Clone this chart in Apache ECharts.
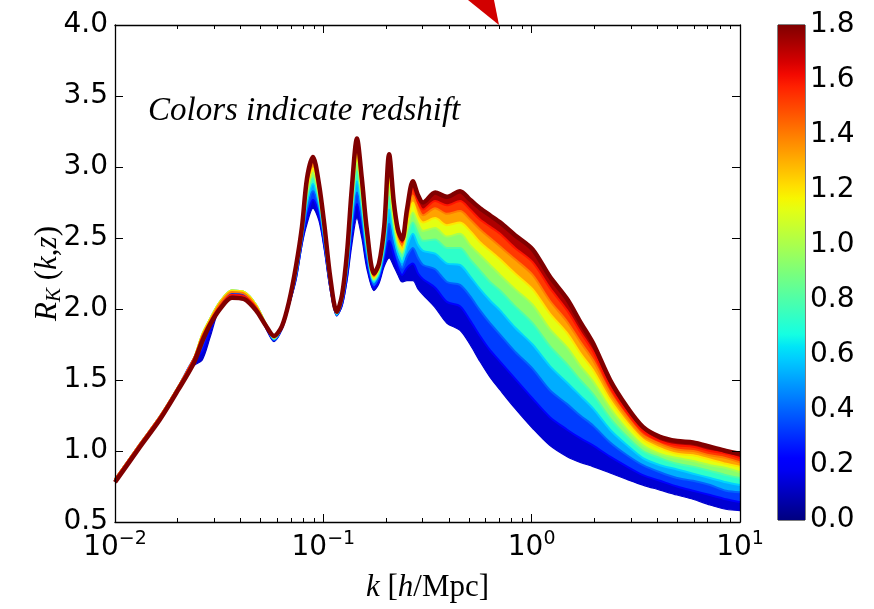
<!DOCTYPE html>
<html>
<head>
<meta charset="utf-8">
<title>R_K(k,z)</title>
<script src="https://cdn.jsdelivr.net/npm/echarts@6/dist/echarts.min.js"></script>
<style>
  html, body { margin: 0; padding: 0; background: #fff; }
  #main { width: 874px; height: 609px; }
</style>
</head>
<body>
<div id="main"></div>
<script>
// k grid [h/Mpc]
const K = [0.0100, 0.0132, 0.0164, 0.0201, 0.0239, 0.0262, 0.0286, 0.0319, 0.0364, 0.0416,
  0.0475, 0.0531, 0.0580, 0.0633, 0.0684, 0.0739, 0.0790, 0.0835, 0.0892, 0.0953,
  0.101, 0.108, 0.116, 0.123, 0.130, 0.137, 0.145, 0.153, 0.162, 0.175,
  0.185, 0.196, 0.207, 0.218, 0.228, 0.239, 0.252, 0.269, 0.285, 0.301,
  0.344, 0.392, 0.453, 0.506, 0.565, 0.631, 0.705, 0.832, 1.01, 1.22,
  1.48, 1.71, 1.97, 2.38, 2.87, 3.42, 4.13, 4.99, 5.95, 7.18, 8.57, 10]

// R_K(k,z), one array per redshift
const Z00 = [0.80, 1.05, 1.24, 1.45, 1.60, 1.64, 1.80, 2.01, 2.09, 2.08,
  2.00, 1.86, 1.77, 1.86, 2.02, 2.20, 2.45, 2.60, 2.71, 2.62,
  2.42, 2.13, 1.95, 2.02, 2.20, 2.45, 2.64, 2.50, 2.28, 2.13,
  2.18, 2.30, 2.36, 2.30, 2.24, 2.19, 2.20, 2.20, 2.14, 2.10,
  2.01, 1.90, 1.85, 1.75, 1.63, 1.52, 1.43, 1.30, 1.16, 1.04,
  0.96, 0.92, 0.89, 0.845, 0.80, 0.76, 0.725, 0.69, 0.66, 0.62, 0.59, 0.58]
const Z02 = [0.80, 1.05, 1.24, 1.45, 1.65, 1.70, 1.85, 2.02, 2.10, 2.09,
  2.01, 1.87, 1.78, 1.86, 2.03, 2.22, 2.47, 2.65, 2.77, 2.66,
  2.45, 2.15, 1.96, 2.03, 2.23, 2.52, 2.74, 2.57, 2.33, 2.15,
  2.20, 2.35, 2.48, 2.38, 2.29, 2.24, 2.29, 2.32, 2.25, 2.21,
  2.15, 2.05, 2.02, 1.92, 1.81, 1.71, 1.63, 1.51, 1.37, 1.24,
  1.15, 1.09, 1.04, 0.96, 0.89, 0.83, 0.79, 0.75, 0.72, 0.69, 0.66, 0.64]
const Z04 = [0.80, 1.05, 1.24, 1.45, 1.65, 1.77, 1.90, 2.04, 2.12, 2.11,
  2.02, 1.88, 1.78, 1.87, 2.03, 2.23, 2.49, 2.71, 2.83, 2.71,
  2.48, 2.16, 1.96, 2.05, 2.27, 2.58, 2.82, 2.64, 2.37, 2.17,
  2.23, 2.39, 2.60, 2.45, 2.35, 2.29, 2.37, 2.43, 2.36, 2.31,
  2.28, 2.19, 2.17, 2.09, 1.99, 1.90, 1.82, 1.70, 1.58, 1.43,
  1.33, 1.25, 1.18, 1.06, 0.97, 0.90, 0.85, 0.81, 0.79, 0.76, 0.72, 0.71]
const Z06 = [0.80, 1.05, 1.24, 1.45, 1.65, 1.81, 1.93, 2.05, 2.13, 2.12,
  2.03, 1.89, 1.79, 1.87, 2.03, 2.25, 2.51, 2.75, 2.88, 2.74,
  2.50, 2.17, 1.96, 2.06, 2.29, 2.64, 2.90, 2.70, 2.41, 2.19,
  2.25, 2.43, 2.70, 2.51, 2.39, 2.33, 2.44, 2.53, 2.45, 2.41,
  2.39, 2.32, 2.31, 2.23, 2.14, 2.06, 1.99, 1.87, 1.75, 1.60,
  1.48, 1.39, 1.30, 1.15, 1.04, 0.95, 0.90, 0.87, 0.84, 0.81, 0.78, 0.76]
const Z08 = [0.80, 1.05, 1.24, 1.45, 1.65, 1.82, 1.93, 2.05, 2.13, 2.12,
  2.03, 1.89, 1.79, 1.87, 2.04, 2.26, 2.53, 2.79, 2.92, 2.77,
  2.53, 2.18, 1.97, 2.07, 2.32, 2.69, 2.97, 2.75, 2.44, 2.20,
  2.26, 2.47, 2.79, 2.57, 2.43, 2.37, 2.50, 2.61, 2.53, 2.48,
  2.49, 2.43, 2.43, 2.35, 2.27, 2.19, 2.13, 2.02, 1.90, 1.74,
  1.61, 1.50, 1.40, 1.23, 1.10, 1.00, 0.95, 0.91, 0.89, 0.86, 0.83, 0.81]
const Z10 = [0.80, 1.05, 1.24, 1.45, 1.65, 1.82, 1.93, 2.05, 2.13, 2.12,
  2.03, 1.89, 1.80, 1.87, 2.04, 2.27, 2.54, 2.82, 2.96, 2.80,
  2.54, 2.19, 1.97, 2.08, 2.34, 2.73, 3.03, 2.79, 2.47, 2.21,
  2.28, 2.49, 2.86, 2.61, 2.46, 2.40, 2.55, 2.68, 2.60, 2.55,
  2.57, 2.51, 2.53, 2.45, 2.38, 2.31, 2.24, 2.14, 2.03, 1.86,
  1.73, 1.60, 1.49, 1.30, 1.15, 1.04, 0.98, 0.95, 0.93, 0.90, 0.88, 0.85]
const Z12 = [0.80, 1.05, 1.24, 1.45, 1.65, 1.82, 1.93, 2.05, 2.13, 2.12,
  2.03, 1.89, 1.80, 1.88, 2.04, 2.28, 2.55, 2.85, 2.99, 2.82,
  2.56, 2.20, 1.97, 2.08, 2.36, 2.76, 3.08, 2.83, 2.49, 2.22,
  2.29, 2.52, 2.93, 2.65, 2.49, 2.42, 2.59, 2.75, 2.65, 2.61,
  2.64, 2.59, 2.61, 2.55, 2.47, 2.41, 2.35, 2.25, 2.14, 1.97,
  1.83, 1.69, 1.57, 1.36, 1.20, 1.08, 1.02, 0.98, 0.97, 0.94, 0.91, 0.89]
const Z14 = [0.80, 1.05, 1.24, 1.45, 1.65, 1.81, 1.92, 2.04, 2.12, 2.11,
  2.02, 1.89, 1.80, 1.88, 2.05, 2.29, 2.56, 2.88, 3.02, 2.84,
  2.57, 2.21, 1.98, 2.09, 2.37, 2.79, 3.12, 2.86, 2.51, 2.23,
  2.30, 2.54, 2.99, 2.69, 2.52, 2.45, 2.63, 2.80, 2.71, 2.66,
  2.71, 2.67, 2.69, 2.63, 2.56, 2.50, 2.44, 2.35, 2.24, 2.06,
  1.91, 1.77, 1.64, 1.41, 1.24, 1.11, 1.05, 1.01, 1.00, 0.97, 0.95, 0.92]
const Z16 = [0.80, 1.05, 1.24, 1.45, 1.65, 1.80, 1.91, 2.02, 2.10, 2.09,
  2.01, 1.88, 1.81, 1.88, 2.05, 2.29, 2.57, 2.90, 3.05, 2.86,
  2.59, 2.21, 1.98, 2.09, 2.39, 2.82, 3.16, 2.89, 2.53, 2.24,
  2.31, 2.56, 3.04, 2.72, 2.54, 2.47, 2.67, 2.85, 2.75, 2.70,
  2.76, 2.73, 2.76, 2.70, 2.63, 2.58, 2.53, 2.43, 2.33, 2.15,
  1.99, 1.84, 1.70, 1.45, 1.27, 1.14, 1.07, 1.04, 1.03, 1.00, 0.98, 0.95]
const Z18 = [0.78, 1.03, 1.22, 1.43, 1.62, 1.77, 1.89, 2.00, 2.08, 2.07,
  1.99, 1.88, 1.81, 1.88, 2.05, 2.30, 2.58, 2.92, 3.07, 2.88,
  2.60, 2.22, 1.98, 2.10, 2.40, 2.85, 3.20, 2.92, 2.55, 2.25,
  2.32, 2.58, 3.09, 2.75, 2.56, 2.49, 2.70, 2.90, 2.80, 2.75,
  2.82, 2.79, 2.83, 2.77, 2.71, 2.66, 2.61, 2.52, 2.42, 2.23,
  2.07, 1.91, 1.76, 1.50, 1.31, 1.17, 1.10, 1.07, 1.06, 1.03, 1.00, 0.98]

const REDSHIFTS = [0, 0.2, 0.4, 0.6, 0.8, 1.0, 1.2, 1.4, 1.6, 1.8]
const CURVES = [Z00, Z02, Z04, Z06, Z08, Z10, Z12, Z14, Z16, Z18]
const Z_MAX = 1.8

const X_MAJOR = [0.01, 0.1, 1, 10]
const X_MINOR = [0.02, 0.03, 0.04, 0.05, 0.06, 0.07, 0.08, 0.09,
  0.2, 0.3, 0.4, 0.5, 0.6, 0.7, 0.8, 0.9, 2, 3, 4, 5, 6, 7, 8, 9]

// matplotlib jet colormap
function interp(t, xs, ys) {
  if (t <= xs[0]) return ys[0]
  for (let i = 1; i < xs.length; i++) {
    if (t <= xs[i]) return ys[i - 1] + (ys[i] - ys[i - 1]) * (t - xs[i - 1]) / (xs[i] - xs[i - 1])
  }
  return ys[ys.length - 1]
}
function jet(t) {
  const r = interp(t, [0, 0.35, 0.66, 0.89, 1], [0, 0, 1, 1, 0.5])
  const g = interp(t, [0, 0.125, 0.375, 0.64, 0.91, 1], [0, 0, 1, 1, 0, 0])
  const b = interp(t, [0, 0.11, 0.34, 0.65, 1], [0.5, 1, 1, 0, 0])
  return 'rgb(' + Math.round(r * 255) + ',' + Math.round(g * 255) + ',' + Math.round(b * 255) + ')'
}

const chart = echarts.init(document.getElementById('main'))

const tickFont = { fontFamily: 'DejaVu Sans', fontSize: 28, color: '#000' }
const serif = 'Liberation Serif'
const SMOOTH = 0.3

// filled areas under every curve, painted from the highest redshift (back)
// to z = 0 (front, white) so each strip between neighbours keeps its own colour
const areaSeries = []
for (let i = CURVES.length - 1; i >= 0; i--) {
  const zBand = i === 0 ? 0 : REDSHIFTS[i - 1] + 0.65 * (REDSHIFTS[i] - REDSHIFTS[i - 1])
  areaSeries.push({
    type: 'line',
    smooth: SMOOTH,
    symbol: 'none',
    silent: true,
    lineStyle: { width: 0 },
    areaStyle: {
      origin: 'start',
      opacity: 1,
      color: i === 0 ? '#ffffff' : jet(zBand / Z_MAX)
    },
    data: K.map((k, j) => [k, CURVES[i][j]]),
    z: 2
  })
}

// the curves themselves
const curveSeries = CURVES.map((c, i) => ({
  type: 'line',
  smooth: SMOOTH,
  symbol: 'none',
  silent: true,
  lineStyle: {
    color: jet(Math.max(REDSHIFTS[i], 0.12) / Z_MAX),
    width: i === CURVES.length - 1 ? 4.5 : (i === 0 ? 1.2 : 2),
    join: 'round'
  },
  data: K.map((k, j) => [k, c[j]]),
  z: 3
}))

// colour bar stops
const barStops = []
for (let i = 0; i <= 40; i++) barStops.push({ offset: i / 40, color: jet(i / 40) })

const logAxisBase = {
  type: 'log',
  logBase: 10,
  min: 0.01,
  max: 10,
  gridIndex: 0,
  z: 6,
  splitLine: { show: false },
  axisLine: { show: true, onZero: false, lineStyle: { color: '#000', width: 1.3 } }
}

const option = {
  animation: false,
  backgroundColor: '#fff',
  grid: [
    { left: 115, right: 134, top: 25, bottom: 87, show: false },
    { left: 778, width: 27, top: 25, bottom: 89, show: true, borderColor: '#000', borderWidth: 1 }
  ],
  xAxis: [
    Object.assign({}, logAxisBase, {
      position: 'bottom',
      axisTick: { inside: true, length: 8, customValues: X_MAJOR, lineStyle: { color: '#000' } },
      axisLabel: {
        customValues: X_MAJOR,
        margin: 8,
        formatter: v => '{b|10}{e|' + Math.round(Math.log10(v)).toString().replace('-', '\u2212') + '}',
        rich: {
          b: { fontFamily: 'DejaVu Sans', fontSize: 28, color: '#000', lineHeight: 36 },
          e: { fontFamily: 'DejaVu Sans', fontSize: 19, color: '#000', verticalAlign: 'top', lineHeight: 36 }
        }
      },
      name: '{i|k} [{i|h}/Mpc]',
      nameLocation: 'middle',
      nameGap: 50,
      nameTextStyle: {
        fontFamily: serif, fontSize: 31, color: '#000',
        rich: { i: { fontFamily: serif, fontStyle: 'italic', fontSize: 31, color: '#000' } }
      }
    }),
    Object.assign({}, logAxisBase, {
      position: 'bottom',
      axisLine: { show: false },
      axisTick: { inside: true, length: 4, customValues: X_MINOR, lineStyle: { color: '#000' } },
      axisLabel: { show: false }
    }),
    Object.assign({}, logAxisBase, {
      position: 'top',
      axisTick: { inside: true, length: 8, customValues: X_MAJOR, lineStyle: { color: '#000' } },
      axisLabel: { show: false }
    }),
    Object.assign({}, logAxisBase, {
      position: 'top',
      axisLine: { show: false },
      axisTick: { inside: true, length: 4, customValues: X_MINOR, lineStyle: { color: '#000' } },
      axisLabel: { show: false }
    }),
    { type: 'category', gridIndex: 1, data: ['z'], show: false }
  ],
  yAxis: [
    {
      type: 'value',
      gridIndex: 0,
      position: 'left',
      min: 0.5,
      max: 4.0,
      interval: 0.5,
      z: 6,
      splitLine: { show: false },
      axisLine: { show: true, onZero: false, lineStyle: { color: '#000', width: 1.3 } },
      axisTick: { inside: true, length: 8, lineStyle: { color: '#000' } },
      axisLabel: Object.assign({ margin: 7, formatter: v => v.toFixed(1) }, tickFont),
      name: '{i|R}{s|K} ({i|k},{i|z})',
      nameLocation: 'middle',
      nameGap: 50,
      nameMoveOverlap: false,
      nameTextStyle: {
        fontFamily: serif, fontSize: 31, color: '#000', lineHeight: 34,
        rich: {
          i: { fontFamily: serif, fontStyle: 'italic', fontSize: 31, color: '#000', lineHeight: 34 },
          s: { fontFamily: serif, fontStyle: 'italic', fontSize: 21, color: '#000', verticalAlign: 'bottom', lineHeight: 34 }
        }
      }
    },
    {
      type: 'value',
      gridIndex: 0,
      position: 'right',
      min: 0.5,
      max: 4.0,
      interval: 0.5,
      z: 6,
      splitLine: { show: false },
      axisLine: { show: true, onZero: false, lineStyle: { color: '#000', width: 1.3 } },
      axisTick: { inside: true, length: 8, lineStyle: { color: '#000' } },
      axisLabel: { show: false }
    },
    {
      type: 'value',
      gridIndex: 1,
      position: 'right',
      min: 0,
      max: Z_MAX,
      interval: 0.2,
      z: 6,
      splitLine: { show: false },
      axisLine: { show: false },
      axisTick: { inside: true, length: 6, lineStyle: { color: '#222' } },
      axisLabel: Object.assign({ margin: 5, formatter: v => v.toFixed(1) }, tickFont)
    }
  ],
  graphic: [
    {
      type: 'text',
      left: 148,
      top: 95,
      z: 10,
      style: { text: 'Colors indicate redshift', font: 'italic 33px "Liberation Serif"', fill: '#000' }
    },
    {
      type: 'polygon',
      shape: { points: [[468, 0], [494, 0], [499, 25]] },
      style: { fill: '#d20000' },
      z: 100
    }
  ],
  series: areaSeries.concat(curveSeries).concat([
    {
      type: 'bar',
      xAxisIndex: 4,
      yAxisIndex: 2,
      barWidth: '100%',
      silent: true,
      data: [Z_MAX],
      itemStyle: { color: new echarts.graphic.LinearGradient(0, 1, 0, 0, barStops) },
      z: 1
    }
  ])
}

chart.setOption(option)
</script>
</body>
</html>
